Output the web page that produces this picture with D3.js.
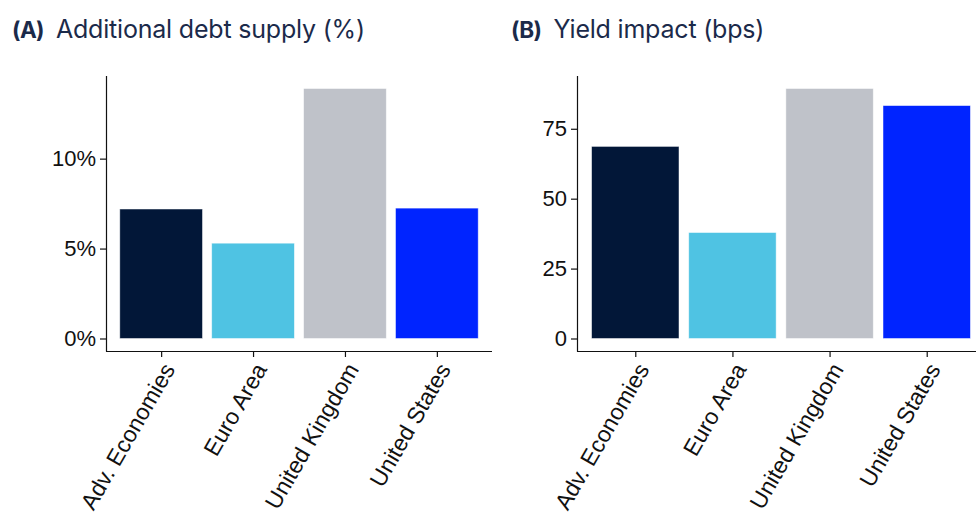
<!DOCTYPE html>
<html>
<head>
<meta charset="utf-8">
<script src="https://cdn.jsdelivr.net/npm/d3@7"></script>
<style>
  html, body { margin: 0; padding: 0; background: #fff; }
  svg { display: block; }
  .tick text { font-family: "Liberation Sans", Arial, sans-serif; }
</style>
</head>
<body>
<svg id="chart" width="976" height="513"></svg>
<script>
// Categories shared by both panels
const categories = ["Adv. Economies", "Euro Area", "United Kingdom", "United States"];
const barColors = ["#021738", "#4fc3e3", "#bfc2c9", "#0024ff"];

// Panel A: additional debt supply, percent
const debtSupply = [7.2, 5.3, 13.9, 7.25];
const debtTicks = [0, 5, 10];

// Panel B: yield impact, basis points
const yieldImpact = [68.7, 37.9, 89.4, 83.3];
const yieldTicks = [0, 25, 50, 75];

const svg = d3.select("#chart");
const titleColor = "#1b2a4a";

function panel(opts) {
  const { left, right, top, bottom, values, ticks, fmt, tag, title, titleX } = opts;
  const g = svg.append("g");

  // Title: bold tag followed by plain text
  const t = g.append("text")
    .attr("x", titleX).attr("y", 38)
    .attr("font-family", "Inter, 'Noto Sans', sans-serif")
    .attr("font-size", 25)
    .attr("fill", titleColor);
  t.append("tspan").attr("font-weight", 700).attr("font-size", 22.5).attr("letter-spacing", -0.6).text(tag);
  t.append("tspan").attr("dx", 12).attr("font-weight", 400).attr("letter-spacing", -0.2).text(title);

  // Discrete x positions with 0.6 step padding on each side
  const xPos = d3.scalePoint().domain(categories).range([left, right]).padding(0.6);
  const step = xPos.step();

  const maxV = d3.max(values);
  const y = d3.scaleLinear().domain([-0.05 * maxV, 1.05 * maxV]).range([bottom, top]);

  // Bars
  const bw = step * 0.9;
  g.selectAll("rect.bar").data(values).join("rect")
    .attr("class", "bar")
    .attr("x", (d, i) => xPos(categories[i]) - bw / 2)
    .attr("width", bw)
    .attr("y", d => y(d))
    .attr("height", d => y(0) - y(d))
    .attr("fill", (d, i) => barColors[i])
    .attr("stroke", "#ffffff").attr("stroke-opacity", 0.6).attr("stroke-width", 0.8);

  // Y axis
  const yAxis = g.append("g").attr("transform", `translate(${left},0)`)
    .call(d3.axisLeft(y).tickValues(ticks).tickFormat(fmt).tickSize(6).tickPadding(4).tickSizeOuter(0));
  yAxis.select(".domain").attr("stroke", "#111").attr("stroke-width", 1.2)
    .attr("d", `M0.5,${top}V${bottom + 0.5}`);
  yAxis.selectAll(".tick line").attr("stroke", "#111").attr("stroke-width", 1.2);
  yAxis.selectAll(".tick text").attr("font-size", 22).attr("fill", "#111");

  // X axis with rotated labels
  const xAxis = g.append("g").attr("transform", `translate(0,${bottom})`)
    .call(d3.axisBottom(xPos).tickSize(6).tickSizeOuter(0));
  xAxis.select(".domain").attr("stroke", "#111").attr("stroke-width", 1.2)
    .attr("d", `M${left},0.5H${right}`);
  xAxis.selectAll(".tick line").attr("stroke", "#111").attr("stroke-width", 1.2);
  xAxis.selectAll(".tick text")
    .attr("font-size", 23).attr("fill", "#111")
    .attr("text-anchor", "end")
    .attr("x", 0).attr("y", 0).attr("dy", "0.71em")
    .attr("transform", "translate(0,10) rotate(-60)");
}

panel({
  left: 106, right: 492, top: 76, bottom: 351,
  values: debtSupply, ticks: debtTicks, fmt: d => d + "%",
  tag: "(A)", title: "Additional debt supply (%)", titleX: 12
});

panel({
  left: 577, right: 985, top: 76, bottom: 351,
  values: yieldImpact, ticks: yieldTicks, fmt: d => String(d),
  tag: "(B)", title: "Yield impact (bps)", titleX: 511
});
</script>
</body>
</html>
